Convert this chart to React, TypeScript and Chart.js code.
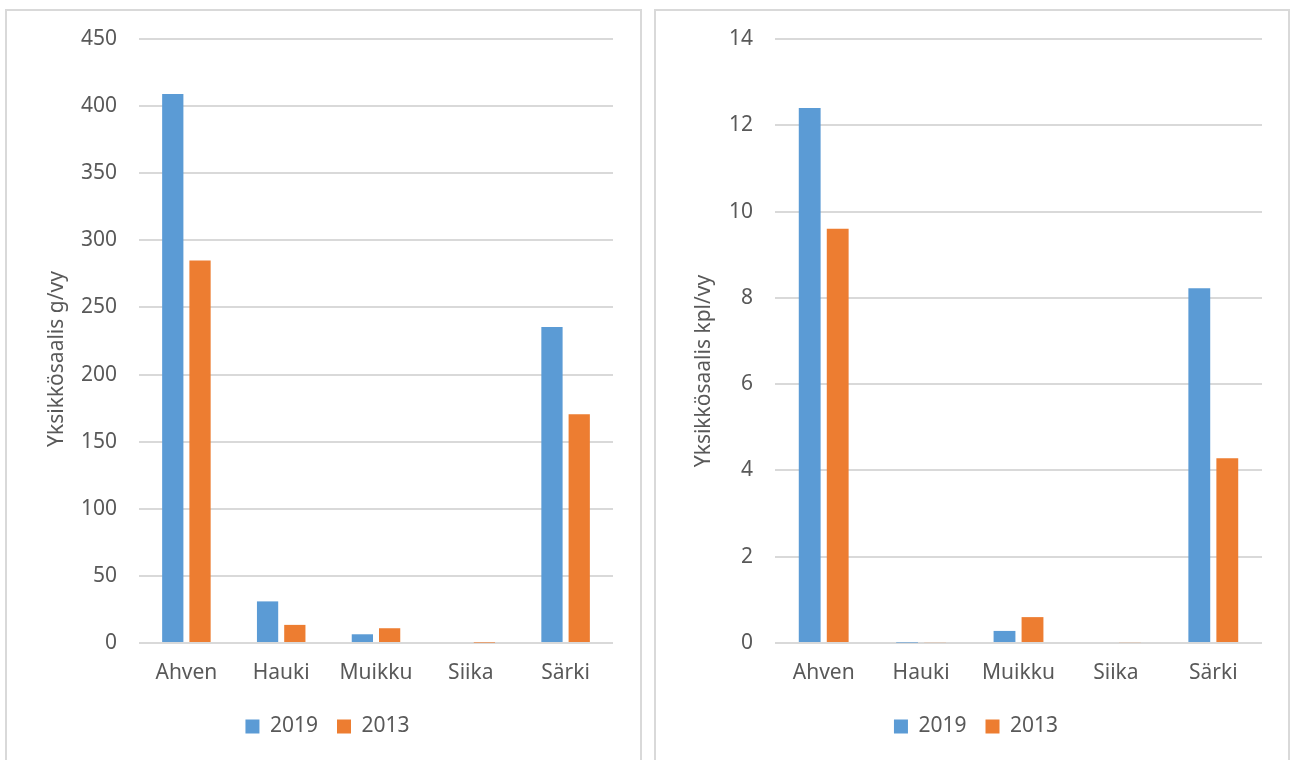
import React, { useEffect, useRef } from 'react';
import { Chart, registerables } from 'chart.js';

Chart.register(...registerables);

const categories = ['Ahven', 'Hauki', 'Muikku', 'Siika', 'Särki'];
const seriesNames = ['2019', '2013'];
const weight2019 = [409, 31, 6.5, 0, 235.5];
const weight2013 = [285, 13.5, 11, 0.3, 170.5];
const count2019 = [12.4, 0.01, 0.28, 0, 8.22];
const count2013 = [9.6, 0.02, 0.6, 0.02, 4.28];
const weightTitle = 'Yksikkösaalis g/vy';
const countTitle = 'Yksikkösaalis kpl/vy';
const weightMax = 450;
const weightStep = 50;
const countMax = 14;
const countStep = 2;

const BLUE = '#5B9BD5';
const ORANGE = '#ED7D31';
const GRID = '#d9d9d9';
const TEXT = '#595959';
const FONT = "'Noto Sans', 'Open Sans', sans-serif";
const FS = 21;

const yTitlePlugin = {
  id: 'yTitle',
  afterDraw(chart: any, _args: any, opts: any) {
    const { ctx, chartArea } = chart;
    const cy = (chartArea.top + chartArea.bottom) / 2 + (opts.dy || 0);
    ctx.save();
    ctx.translate(opts.x, cy);
    ctx.rotate(-Math.PI / 2);
    ctx.font = `${opts.size}px ${FONT}`;
    ctx.fillStyle = TEXT;
    ctx.textAlign = 'center';
    ctx.textBaseline = 'middle';
    ctx.fillText(opts.text, 0, 0);
    ctx.restore();
  },
};

type Props = {
  left: number;
  width: number;
  a: number[];
  b: number[];
  max: number;
  step: number;
  title: string;
  yWidth: number;
  padRight: number;
  titleX: number;
  titleDy: number;
};

function ChartBox(p: Props) {
  const ref = useRef<HTMLCanvasElement | null>(null);
  const innerW = p.width - 4;
  const innerH = 749;
  useEffect(() => {
    if (!ref.current) return;
    const chart = new Chart(ref.current, {
      type: 'bar',
      data: {
        labels: categories,
        datasets: [
          { label: seriesNames[0], data: p.a, backgroundColor: BLUE, categoryPercentage: 0.575, barPercentage: 0.78 },
          { label: seriesNames[1], data: p.b, backgroundColor: ORANGE, categoryPercentage: 0.575, barPercentage: 0.78 },
        ],
      },
      options: {
        responsive: false,
        animation: false,
        layout: { padding: { top: 28, right: 0, left: 8, bottom: 13 } },
        plugins: {
          legend: {
            position: 'bottom',
            labels: {
              boxWidth: 14,
              boxHeight: 14,
              padding: 19,
              color: TEXT,
              font: { family: FONT, size: FS },
            },
          },
          tooltip: { enabled: false },
          yTitle: { text: p.title, x: p.titleX, dy: p.titleDy, size: FS },
        } as any,
        scales: {
          x: {
            grid: { display: false, drawTicks: false },
            border: { display: false },
            ticks: { color: TEXT, padding: 17, font: { family: FONT, size: FS } },
            afterFit: (s: any) => { s.height = 54; },
          },
          y: {
            min: 0,
            max: p.max,
            grid: { color: GRID, lineWidth: 2, drawTicks: false },
            border: { display: false },
            ticks: { stepSize: p.step, color: TEXT, padding: 22, font: { family: FONT, size: FS } },
            afterFit: (s: any) => {
              s.width = p.yWidth;
              s.paddingTop = 12;
              s.paddingBottom = 12;
            },
          },
          yRightSpace: {
            type: 'linear',
            position: 'right',
            grid: { display: false, drawTicks: false },
            border: { display: false },
            ticks: { display: false },
            afterFit: (s: any) => { s.width = p.padRight; },
          },
        },
      },
      plugins: [yTitlePlugin],
    } as any);
    return () => chart.destroy();
  }, []);
  return (
    <div
      style={{
        position: 'absolute',
        left: p.left,
        top: 9,
        width: p.width,
        height: 800,
        border: `2px solid ${GRID}`,
        boxSizing: 'border-box',
        background: '#fff',
      }}
    >
      <canvas ref={ref} width={innerW} height={innerH} style={{ display: 'block', width: innerW, height: innerH }} />
    </div>
  );
}

export default function App() {
  return (
    <div style={{ position: 'fixed', left: 0, top: 0, width: 1290, height: 760, overflow: 'hidden', background: '#fff' }}>
      <ChartBox left={5} width={637} a={weight2019} b={weight2013} max={weightMax} step={weightStep}
        title={weightTitle} yWidth={124} padRight={27} titleX={50} titleDy={18} />
      <ChartBox left={654} width={636} a={count2019} b={count2013} max={countMax} step={countStep}
        title={countTitle} yWidth={111} padRight={26} titleX={48} titleDy={30} />
    </div>
  );
}
